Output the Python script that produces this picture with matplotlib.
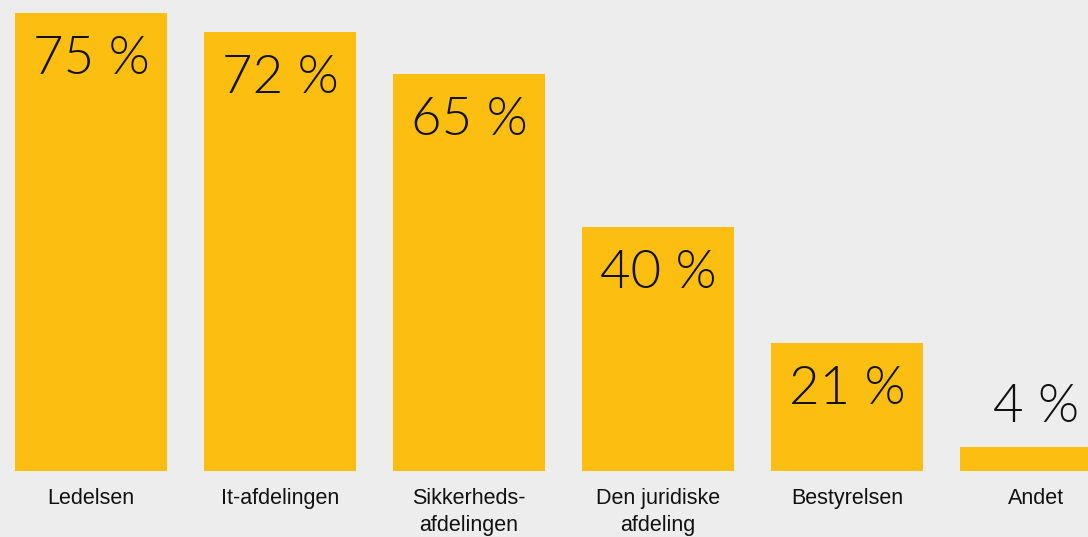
import matplotlib
matplotlib.use("Agg")
import matplotlib.pyplot as plt

kategorier = ["Ledelsen", "It-afdelingen", "Sikkerheds-\nafdelingen",
              "Den juridiske\nafdeling", "Bestyrelsen", "Andet"]
andele = [75, 72, 65, 40, 21, 4]

baggrund = "#ecedec"
gul = "#fdbe12"

fig = plt.figure(figsize=(10.88, 5.37), dpi=100, facecolor=baggrund)
ax = fig.add_axes([0, 66 / 537, 1, 471 / 537])
ax.set_facecolor(baggrund)

x = list(range(len(andele)))
ax.bar(x, andele, width=0.805, color=gul)

ax.set_xlim(-0.481, 5.275)
ax.set_ylim(0, 77.2)
for s in ax.spines.values():
    s.set_visible(False)
ax.set_yticks([])
ax.set_xticks(x)
ax.set_xticklabels(kategorier, family=["Liberation Sans", "DejaVu Sans"],
                   fontsize=15.5, color="#111111", linespacing=1.42)
ax.tick_params(axis="x", length=0, pad=12)

for i, v in enumerate(andele):
    y = v - 7.6 if v > 10 else v + 6.4
    ax.text(i, y, f"{v} %", ha="center", va="center", fontsize=38,
            family=["Lato", "DejaVu Sans"], fontweight=300, color="#111111")

fig.savefig("out.png", dpi=100, facecolor=baggrund)
